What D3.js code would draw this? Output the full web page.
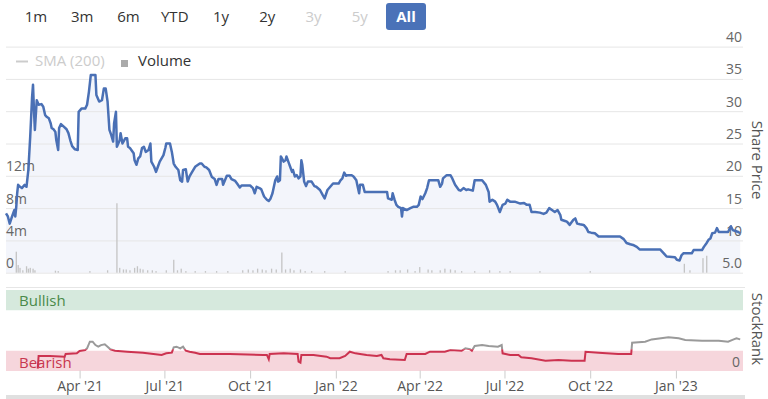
<html>
<head>
<meta charset="UTF-8">
<script src="https://d3js.org/d3.v7.min.js"></script>
<title>Share price</title>
<style>
  body { margin: 0; background: #fff; }
  svg text { font-family: "Open Sans", sans-serif; }
</style>
</head>
<body>
<svg id="chart" width="768" height="399"></svg>
<script>
// share price (closing)
const priceDates = [
  '2021-01-12','2021-01-14','2021-01-16','2021-01-18','2021-01-19','2021-01-21','2021-01-22','2021-01-23','2021-01-24','2021-01-25',
  '2021-01-27','2021-01-29','2021-02-01','2021-02-03','2021-02-05','2021-02-07','2021-02-09','2021-02-10','2021-02-11','2021-02-12',
  '2021-02-14','2021-02-16','2021-02-19','2021-02-21','2021-02-23','2021-02-25','2021-02-27','2021-03-01','2021-03-02','2021-03-04',
  '2021-03-06','2021-03-07','2021-03-09','2021-03-10','2021-03-12','2021-03-15','2021-03-18','2021-03-20','2021-03-22','2021-03-24',
  '2021-03-27','2021-03-30','2021-03-31','2021-04-03','2021-04-07','2021-04-09','2021-04-11','2021-04-13','2021-04-18','2021-04-19',
  '2021-04-22','2021-04-25','2021-04-27','2021-04-29','2021-05-01','2021-05-03','2021-05-05','2021-05-07','2021-05-08','2021-05-10',
  '2021-05-11','2021-05-14','2021-05-15','2021-05-17','2021-05-20','2021-05-22','2021-05-23','2021-05-25','2021-05-29','2021-05-30',
  '2021-06-01','2021-06-03','2021-06-05','2021-06-07','2021-06-09','2021-06-11','2021-06-14','2021-06-16','2021-06-17','2021-06-20',
  '2021-06-22','2021-06-24','2021-06-26','2021-06-30','2021-07-02','2021-07-03','2021-07-07','2021-07-09','2021-07-11','2021-07-13',
  '2021-07-16','2021-07-18','2021-07-20','2021-07-21','2021-07-24','2021-07-26','2021-07-28','2021-07-30','2021-08-03','2021-08-08',
  '2021-08-10','2021-08-13','2021-08-15','2021-08-18','2021-08-21','2021-08-24','2021-08-26','2021-08-28','2021-09-01','2021-09-02',
  '2021-09-06','2021-09-09','2021-09-11','2021-09-15','2021-09-17','2021-09-20','2021-09-22','2021-10-01','2021-10-04','2021-10-06',
  '2021-10-08','2021-10-11','2021-10-13','2021-10-16','2021-10-19','2021-10-21','2021-10-23','2021-10-25','2021-10-28','2021-10-30',
  '2021-10-31','2021-11-02','2021-11-03','2021-11-06','2021-11-08','2021-11-09','2021-11-11','2021-11-13','2021-11-15','2021-11-16',
  '2021-11-18','2021-11-20','2021-11-22','2021-11-24','2021-11-25','2021-11-26','2021-11-28','2021-11-30','2021-12-02','2021-12-06',
  '2021-12-09','2021-12-11','2021-12-15','2021-12-18','2021-12-20','2021-12-23','2021-12-26','2021-12-29','2022-01-04','2022-01-06',
  '2022-01-08','2022-01-10','2022-01-12','2022-01-14','2022-01-18','2022-01-20','2022-01-23','2022-01-24','2022-01-26','2022-01-27',
  '2022-01-30','2022-02-01','2022-02-05','2022-02-25','2022-02-26','2022-03-02','2022-03-03','2022-03-05','2022-03-07','2022-03-09',
  '2022-03-12','2022-03-13','2022-03-14','2022-03-18','2022-03-22','2022-03-25','2022-03-29','2022-03-31','2022-04-02','2022-04-04',
  '2022-04-07','2022-04-09','2022-04-11','2022-04-14','2022-04-21','2022-04-23','2022-04-25','2022-04-26','2022-04-30','2022-05-04',
  '2022-05-06','2022-05-09','2022-05-13','2022-05-15','2022-05-18','2022-05-21','2022-05-23','2022-05-28','2022-05-30','2022-06-07',
  '2022-06-11','2022-06-14','2022-06-15','2022-06-18','2022-06-21','2022-06-23','2022-06-26','2022-06-29','2022-07-02','2022-07-04',
  '2022-07-07','2022-07-12','2022-07-18','2022-07-22','2022-07-25','2022-07-28','2022-07-30','2022-08-03','2022-08-08','2022-08-12',
  '2022-08-15','2022-08-18','2022-08-21','2022-08-24','2022-08-27','2022-08-30','2022-08-31','2022-09-04','2022-09-06','2022-09-09',
  '2022-09-10','2022-09-13','2022-09-15','2022-09-17','2022-09-20','2022-09-24','2022-09-27','2022-09-29','2022-10-02','2022-10-06',
  '2022-10-10','2022-11-02','2022-11-06','2022-11-09','2022-11-13','2022-11-16','2022-11-20','2022-11-23','2022-12-15','2022-12-19',
  '2022-12-22','2022-12-31','2023-01-02','2023-01-05','2023-01-07','2023-01-09','2023-01-18','2023-01-20','2023-01-29','2023-01-31',
  '2023-02-03','2023-02-05','2023-02-07','2023-02-09','2023-02-12','2023-02-14','2023-02-16','2023-02-21','2023-02-26','2023-03-01',
  '2023-03-03','2023-03-05','2023-03-09','2023-03-11'
];
const priceValues = [
  14.2,13.7,12.6,13.5,13.9,14.7,13.7,15.2,17.3,18.6,
  18.3,18.1,18.6,18.3,20.9,26.1,32.2,34.1,30.2,27.1,
  31.7,31.0,31.1,30.7,29.4,29.1,28.9,28.1,27.4,27.2,
  26.8,25.5,24.0,27.4,28.0,27.6,27.2,26.6,25.5,24.6,
  24.1,24.0,29.9,30.4,30.4,31.0,33.0,35.6,35.6,32.5,
  31.5,31.7,33.5,33.5,31.5,27.1,26.3,25.3,28.1,29.9,
  24.5,25.5,26.6,25.0,25.8,25.8,24.5,24.3,23.5,22.4,
  21.7,22.7,23.0,24.3,24.5,23.7,24.0,25.0,22.2,21.4,
  20.6,21.4,22.2,23.2,24.3,25.0,25.0,23.7,21.9,21.4,
  20.9,19.3,19.1,20.9,21.0,19.1,19.9,20.4,21.4,21.9,
  21.9,21.4,21.3,20.9,19.8,19.5,18.6,19.5,19.5,18.6,
  20.0,20.0,19.5,19.2,18.8,18.2,18.5,18.5,18.1,17.3,
  18.3,18.1,17.9,16.8,16.3,16.1,16.5,17.3,19.3,19.9,
  19.1,19.3,23.0,22.2,22.4,23.0,22.2,21.4,20.6,20.9,
  19.9,20.1,19.6,19.9,22.4,21.7,19.1,18.4,19.1,19.1,
  18.4,18.3,17.8,17.0,16.5,17.8,18.3,18.8,18.8,19.3,
  19.6,20.5,20.0,20.1,20.1,19.9,19.3,18.6,17.3,18.6,
  18.6,17.5,17.5,17.5,16.5,16.3,17.3,16.3,15.5,15.2,
  15.0,13.7,15.0,14.7,15.0,15.2,15.2,15.5,16.8,16.4,
  17.3,18.1,19.3,19.3,19.3,18.3,18.8,19.6,20.1,20.1,
  19.6,18.6,17.8,17.7,18.1,17.8,17.9,17.7,19.3,19.3,
  18.6,17.5,16.0,16.3,16.0,15.5,14.4,15.5,15.7,16.3,
  16.0,16.0,15.7,15.8,15.5,15.5,14.4,14.4,14.3,14.1,
  14.3,15.0,14.7,14.4,14.7,13.9,13.2,13.0,12.9,12.4,
  12.6,13.2,13.4,12.6,12.5,12.4,11.9,11.3,11.2,11.1,
  10.6,10.6,10.2,9.6,9.4,9.3,9.0,8.6,8.6,8.0,
  7.5,7.4,7.0,6.9,7.7,8.0,8.0,8.5,8.5,9.0,
  9.6,10.1,10.3,11.1,11.2,11.9,11.3,11.3,11.3,12.2,
  11.6,11.5,11.3,11.1
];

// daily volume (millions of shares), only the visible bars
const volumeDates = [
  '2021-01-23','2021-01-25','2021-01-27','2021-01-30','2021-02-03','2021-02-05','2021-02-07','2021-02-10','2021-02-12','2021-03-06',
  '2021-03-09','2021-04-12','2021-05-01','2021-05-11','2021-05-14','2021-05-18','2021-05-21','2021-05-25','2021-05-30','2021-06-02',
  '2021-06-05','2021-06-08','2021-06-13','2021-06-18','2021-06-22','2021-07-03','2021-07-11','2021-07-15','2021-07-19','2021-07-24',
  '2021-08-03','2021-08-14','2021-08-26','2021-09-07','2021-09-23','2021-09-29','2021-10-04','2021-10-09','2021-10-14','2021-10-18',
  '2021-10-24','2021-10-29','2021-11-04','2021-11-08','2021-11-13','2021-11-17','2021-11-24','2021-11-29','2021-12-06','2021-12-20',
  '2022-01-11','2022-02-26','2022-03-06','2022-03-11','2022-03-19','2022-03-27','2022-04-01','2022-04-10','2022-04-14','2022-04-23',
  '2022-04-28','2022-05-04','2022-05-09','2022-05-16','2022-05-30','2022-06-15','2022-06-26','2022-07-07','2022-08-08','2022-10-01',
  '2023-01-10','2023-01-16','2023-01-30','2023-02-03'
];
const volumeValues = [
  2.6,0.95,0.6,0.3,0.8,0.5,0.6,0.5,0.3,0.25,
  0.2,0.2,0.3,8.6,0.6,0.4,0.4,0.3,0.6,0.8,
  0.5,0.4,0.3,0.3,0.2,0.3,1.6,0.3,0.5,0.2,
  0.2,0.2,0.2,0.2,0.3,0.4,0.3,0.5,0.4,0.3,
  0.5,0.4,2.5,0.4,0.5,0.3,0.4,0.2,0.2,0.2,
  0.2,0.2,0.3,0.3,0.4,0.2,0.7,0.4,0.3,0.3,
  0.5,0.4,0.3,0.2,0.2,0.3,0.2,0.2,0.2,0.2,
  1.1,0.3,1.8,2.1
];

// StockRank (0-100)
const rankDates = [
  '2021-02-15','2021-02-16','2021-02-28','2021-03-16','2021-03-17','2021-03-29','2021-04-01','2021-04-07','2021-04-09','2021-04-12',
  '2021-04-15','2021-04-18','2021-04-21','2021-04-24','2021-04-28','2021-05-01','2021-05-04','2021-05-09','2021-05-22','2021-06-08',
  '2021-06-28','2021-07-03','2021-07-09','2021-07-11','2021-07-14','2021-07-18','2021-07-21','2021-07-24','2021-07-28','2021-08-03',
  '2021-08-08','2021-09-09','2021-10-15','2021-10-19','2021-10-21','2021-10-22','2021-11-06','2021-11-21','2021-11-22','2021-11-24',
  '2021-11-25','2021-12-08','2021-12-22','2021-12-26','2022-01-05','2022-01-11','2022-01-16','2022-01-22','2022-01-27','2022-02-03',
  '2022-02-14','2022-02-19','2022-02-21','2022-02-28','2022-03-16','2022-03-18','2022-04-07','2022-04-12','2022-04-28','2022-05-04',
  '2022-05-16','2022-05-20','2022-05-25','2022-05-27','2022-05-30','2022-06-07','2022-06-14','2022-06-24','2022-06-28','2022-06-29',
  '2022-07-07','2022-07-16','2022-07-19','2022-07-30','2022-08-14','2022-08-28','2022-09-11','2022-09-25','2022-09-26','2022-10-10',
  '2022-10-31','2022-11-14','2022-11-15','2022-11-29','2022-12-06','2022-12-24','2023-01-04','2023-01-11','2023-01-29','2023-02-16',
  '2023-02-26','2023-03-04','2023-03-07','2023-03-11'
];
const rankValues = [
  3,18.5,18.5,17.7,21,21.8,24.7,25.9,28,36.2,
  36.2,32,30,32,33,30,26.8,25,23.8,22.6,
  19.8,21.8,22.6,29.3,30,28,30,25,23.8,22.6,
  21,21,19.8,19.8,14.4,21,21.8,21,11.5,10.3,
  19.8,19.8,17.7,15.7,15.7,18.5,23.8,21.8,21,19.8,
  18.5,19.8,15.7,14.4,13.6,21,21,23.8,23.8,25.9,
  25,28,26.8,25,30.9,32,30.9,30,32,21.8,
  19.8,19.8,16.9,15.7,12.7,13.6,12.7,12.7,23.8,22.6,
  21,21,35,36.2,39,41.6,40.4,38.3,37.4,37.4,
  36.2,39,40.4,39
];
const rankThreshold = 27;

// axes
const dateTicks = ['2021-04-01','2021-07-01','2021-10-01','2022-01-01','2022-04-01','2022-07-01','2022-10-01','2023-01-01'];
const dateTickLabels = ["Apr '21","Jul '21","Oct '21","Jan '22","Apr '22","Jul '22","Oct '22","Jan '23"];
const priceTicks = [5,10,15,20,25,30,35,40];
const priceTickLabels = ['5.0','10','15','20','25','30','35','40'];
const volumeTicks = [0,4,8,12];
const volumeTickLabels = ['0','4m','8m','12m'];
const rangeButtons = ['1m','3m','6m','YTD','1y','2y','3y','5y','All'];
const disabledButtons = ['3y','5y'];

const parseDate = d3.timeParse('%Y-%m-%d');
const svg = d3.select('#chart');

const x = d3.scaleTime()
  .domain([parseDate('2021-01-12'), parseDate('2023-03-14')])
  .range([6, 743]);
const yPrice = d3.scaleLinear().domain([5, 40]).range([272.7, 46.6]);
const yVol = d3.scaleLinear().domain([0, 12]).range([272.7, 175.8]);
const yRank = d3.scaleLinear().domain([0, 100]).range([371, 290]);

const prices = priceDates.map((d, i) => ({ date: parseDate(d), value: priceValues[i] }));
const volumes = volumeDates.map((d, i) => ({ date: parseDate(d), value: volumeValues[i] }));
const ranks = rankDates.map((d, i) => ({ date: parseDate(d), value: rankValues[i] }));

// range selector buttons
const btnX = d3.scalePoint().domain(rangeButtons).range([36, 406]);
const btn = svg.append('g').selectAll('g').data(rangeButtons).join('g')
  .attr('transform', d => `translate(${btnX(d)},0)`);
btn.filter(d => d === 'All').append('rect')
  .attr('x', -20).attr('y', 3).attr('width', 40).attr('height', 27).attr('rx', 3)
  .attr('fill', '#4a72b8');
btn.append('text')
  .attr('y', 22).attr('text-anchor', 'middle').style('font-size', '15px')
  .style('font-weight', d => d === 'All' ? 'bold' : 'normal')
  .attr('fill', d => d === 'All' ? '#fff' : (disabledButtons.includes(d) ? '#ccc' : '#333'))
  .text(d => d);

// legend
const legend = svg.append('g');
legend.append('line').attr('x1', 16).attr('x2', 28).attr('y1', 61.5).attr('y2', 61.5)
  .attr('stroke', '#ccc').attr('stroke-width', 2);
legend.append('text').attr('x', 35).attr('y', 66).attr('fill', '#ccc')
  .style('font-size', '15px').text('SMA (200)');
legend.append('rect').attr('x', 121).attr('y', 60).attr('width', 7).attr('height', 7).attr('fill', '#aaa');
legend.append('text').attr('x', 138).attr('y', 66).attr('fill', '#333')
  .style('font-size', '15px').text('Volume');

// price area (drawn first, under grid and labels)
svg.append('path').datum(prices)
  .attr('fill', '#f3f5fb')
  .attr('d', d3.area().x(d => x(d.date)).y0(yPrice(5)).y1(d => yPrice(d.value)));

// price gridlines + right labels
const priceAxis = svg.append('g')
  .attr('transform', 'translate(6,0)')
  .call(d3.axisRight(yPrice).tickValues(priceTicks).tickSize(737)
    .tickFormat((d, i) => priceTickLabels[i]));
priceAxis.select('.domain').remove();
priceAxis.selectAll('line').attr('stroke', '#e6e6e6');
priceAxis.selectAll('text')
  .attr('x', 736).attr('dy', -5).attr('text-anchor', 'end')
  .attr('fill', '#666').style('font-size', '14px');

// volume bars
svg.append('g').selectAll('rect').data(volumes).join('rect')
  .attr('x', d => x(d.date) - 0.6)
  .attr('width', 1.3)
  .attr('y', d => yVol(d.value))
  .attr('height', d => yVol(0) - yVol(d.value))
  .attr('fill', '#c4c4c4');

// volume labels (left)
const volAxis = svg.append('g')
  .attr('transform', 'translate(6,0)')
  .call(d3.axisRight(yVol).tickValues(volumeTicks).tickSize(0)
    .tickFormat((d, i) => volumeTickLabels[i]));
volAxis.select('.domain').remove();
volAxis.selectAll('text')
  .attr('x', 0).attr('dy', -5).attr('text-anchor', 'start')
  .attr('fill', '#666').style('font-size', '14px');

// price line
svg.append('path').datum(prices)
  .attr('fill', 'none')
  .attr('stroke', '#4a70b5')
  .attr('stroke-width', 2.5)
  .attr('stroke-linejoin', 'round')
  .attr('d', d3.line().x(d => x(d.date)).y(d => yPrice(d.value)));

svg.append('text')
  .attr('transform', 'translate(752,160) rotate(90)')
  .attr('text-anchor', 'middle').attr('fill', '#555').style('font-size', '15px')
  .text('Share Price');

// StockRank panel
svg.append('line').attr('x1', 6).attr('x2', 745).attr('y1', 287.5).attr('y2', 287.5)
  .attr('stroke', '#e6e6e6');
svg.append('rect').attr('x', 6).attr('width', 737)
  .attr('y', yRank(100)).attr('height', yRank(75) - yRank(100)).attr('fill', '#d6e9dd');
svg.append('rect').attr('x', 6).attr('width', 737)
  .attr('y', yRank(25)).attr('height', yRank(0) - yRank(25)).attr('fill', '#f6d6dc');
svg.append('text').attr('x', 19).attr('y', 306).attr('fill', '#4a8a4a')
  .style('font-size', '15px').text('Bullish');
svg.append('text').attr('x', 19).attr('y', 368).attr('fill', '#c8364f')
  .style('font-size', '15px').text('Bearish');

const defs = svg.append('defs');
defs.append('clipPath').attr('id', 'rank-hi').append('rect')
  .attr('x', 0).attr('width', 768).attr('y', 280).attr('height', yRank(rankThreshold) - 280);
defs.append('clipPath').attr('id', 'rank-lo').append('rect')
  .attr('x', 0).attr('width', 768).attr('y', yRank(rankThreshold)).attr('height', 380 - yRank(rankThreshold));

const rankLine = d3.line().x(d => x(d.date)).y(d => yRank(d.value));
svg.append('path').datum(ranks)
  .attr('clip-path', 'url(#rank-hi)')
  .attr('fill', 'none').attr('stroke', '#9a9a9a').attr('stroke-width', 2)
  .attr('d', rankLine);
svg.append('path').datum(ranks)
  .attr('clip-path', 'url(#rank-lo)')
  .attr('fill', 'none').attr('stroke', '#cc3350').attr('stroke-width', 2)
  .attr('d', rankLine);

svg.append('text').attr('x', 740).attr('y', 367).attr('text-anchor', 'end')
  .attr('fill', '#666').style('font-size', '14px').text('0');

svg.append('text')
  .attr('transform', 'translate(752,329) rotate(90)')
  .attr('text-anchor', 'middle').attr('fill', '#555').style('font-size', '15px')
  .text('StockRank');

// date axis
const xAxis = svg.append('g')
  .attr('transform', 'translate(0,370.5)')
  .call(d3.axisBottom(x).tickValues(dateTicks.map(parseDate)).tickSize(8)
    .tickFormat((d, i) => dateTickLabels[i]));
xAxis.select('.domain').remove();
xAxis.selectAll('line').attr('stroke', '#ccc');
xAxis.selectAll('text').attr('fill', '#555').style('font-size', '14px');

// navigator scrollbar strip
svg.append('rect').attr('x', 6).attr('y', 395).attr('width', 739).attr('height', 4).attr('fill', '#e0e0e0');
</script>
</body>
</html>
